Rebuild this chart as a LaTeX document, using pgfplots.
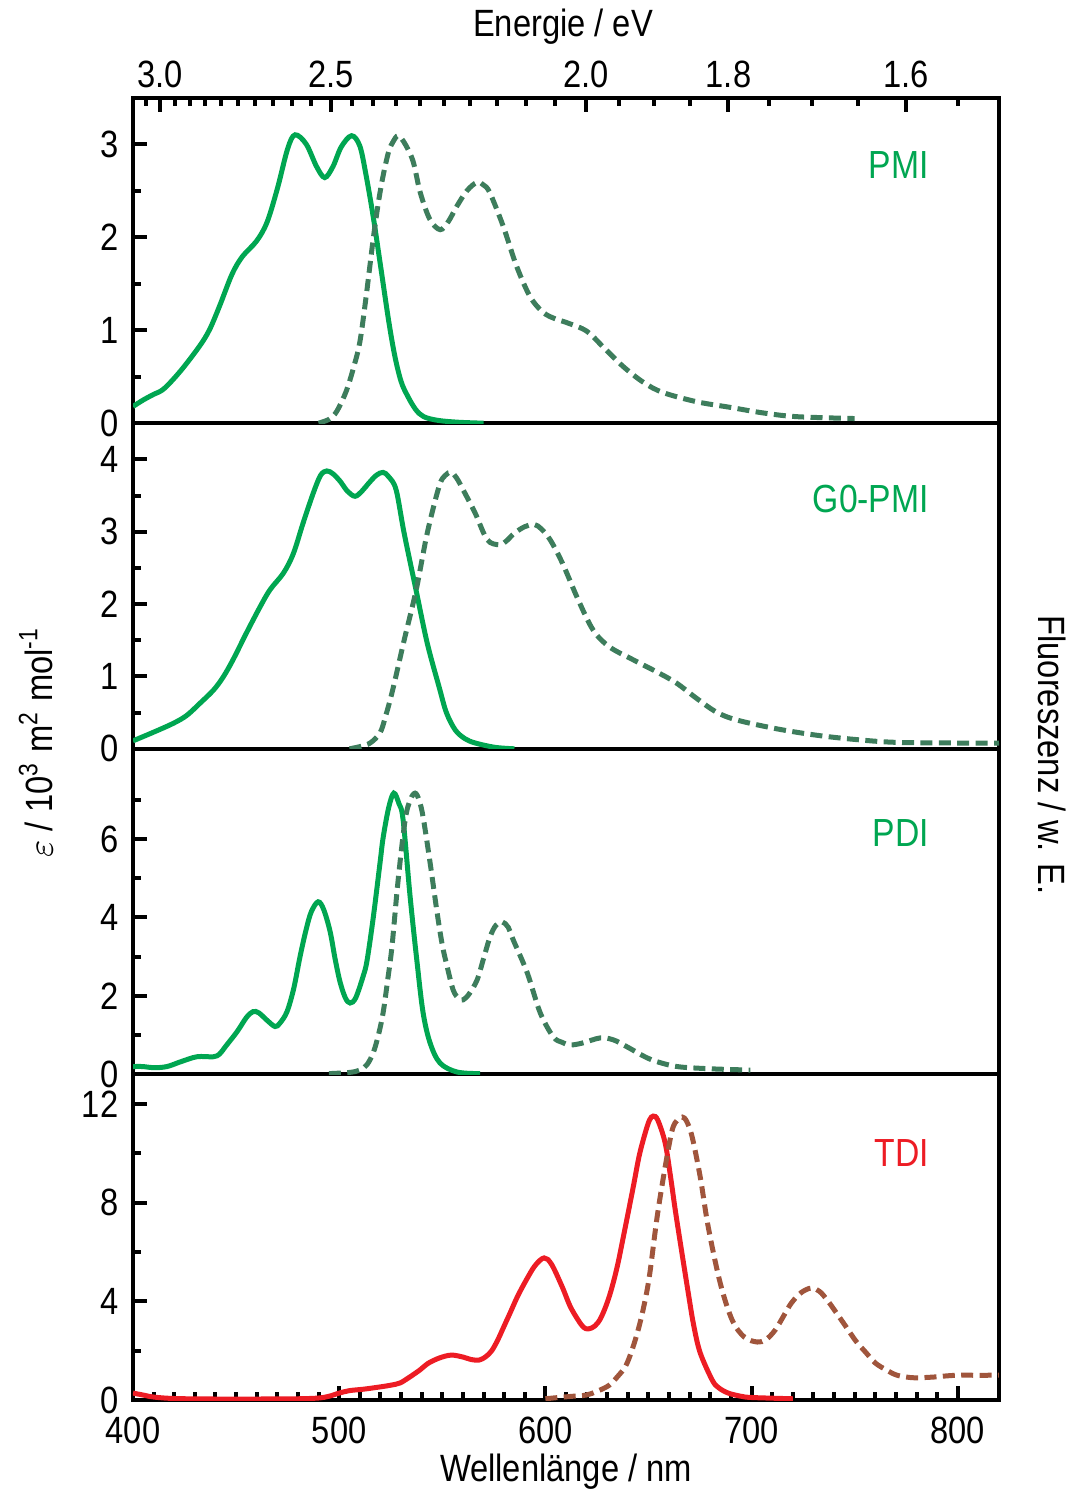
\documentclass[border=0pt]{standalone}
\usepackage{pgfplots}
\pgfplotsset{compat=1.18}
\usepackage{fontspec}
\setmainfont{Liberation Sans}[FakeStretch=0.86]
\definecolor{absgreen}{RGB}{0,166,81}
\definecolor{flgreen}{RGB}{61,125,92}
\definecolor{absred}{RGB}{237,28,36}
\definecolor{flbrown}{RGB}{160,85,60}
\tikzset{lbl/.style={anchor=east, inner sep=0pt, font=\fontsize{9.8}{11.4}\selectfont}}
\pgfplotsset{
  panel/.style={
    scale only axis, width=216.5pt, height=81.4pt,
    xmin=400, xmax=820,
    axis line style={line width=1pt, black},
    tick style={line width=1pt, black},
    major tick length=3.6pt, minor tick length=2.1pt,
    tick align=inside,
    ytick pos=left,
    xtick=\empty, minor x tick num=0,
    minor y tick num=1,
    /pgf/number format/assume math mode=true,
    font=\fontsize{9.5}{11.4}\selectfont,
    ticklabel style={font=\fontsize{9.5}{11.4}\selectfont},
    yticklabel style={xshift=-0.3pt, inner ysep=0pt},
    xticklabel style={inner ysep=0pt},
  },
  absline/.style={line width=1.25pt, smooth, tension=0.55},
  flline/.style={line width=1.25pt, smooth, tension=0.55, dash pattern=on 3pt off 1.6pt},
}
\begin{document}
\fontsize{9.5}{11.4}\selectfont
\begin{tikzpicture}
\useasboundingbox (-33.25pt,-22.5pt) rectangle (235.5pt,350pt);

% ---------------- TDI (bottom) ----------------
\begin{axis}[panel, at={(0pt,0pt)}, anchor=south west,
  ymin=0, ymax=13.2, ytick={0,4,8,12}, minor ytick={2,6,10},
  xtick={400,500,600,700,800}, minor x tick num=9,
  xtick pos=left, xticklabel pos=left,
  xticklabel style={yshift=-4pt}]
\addplot[absline, absred] coordinates {
(400,0.28)(405,0.2)(410,0.12)(420,0.06)(440,0.04)(460,0.04)(480,0.05)(490,0.08)
(495,0.15)(500,0.28)(505,0.38)(512,0.44)(519.8,0.53)(525,0.6)(529.5,0.69)(534,0.92)
(539.2,1.22)(543,1.48)(548.5,1.7)(554.3,1.82)(560.1,1.74)(564,1.64)(567.9,1.62)(571,1.75)
(574,2.0)(577,2.45)(580,3.0)(583,3.55)(586.5,4.2)(590.7,4.86)(595,5.45)(599.4,5.76)(603,5.5)
(608.2,4.58)(612,3.8)(615.9,3.24)(618.5,2.95)(620.8,2.88)(624,3.0)(627.1,3.36)(631,4.2)
(634.8,5.39)(638.5,6.9)(642.6,8.63)(645.5,9.9)(648.4,10.82)(650.5,11.35)(652.3,11.51)
(654.5,11.35)(658.1,10.42)(660.8,9.0)(663.5,7.42)(669.3,4.34)(672,3.0)(675.1,1.91)
(680.9,0.81)(684,0.5)(688.7,0.28)(695,0.15)(700.3,0.1)(720,0.05)};
\addplot[flline, flbrown] coordinates {
(600,0.05)(606.2,0.1)(613,0.15)(619.8,0.2)(625,0.35)(631,0.6)(635,0.95)(638.7,1.34)
(641.5,1.9)(644.6,2.72)(647.5,3.7)(650.4,4.99)(654.2,7.42)(658.1,9.45)(661.5,10.94)
(664,11.35)(666.4,11.47)(668.5,11.3)(671.2,10.66)(675.1,9.04)(679,7.01)(684.8,4.74)
(690.6,3.24)(696.5,2.55)(702.8,2.35)(707,2.45)(711.5,2.84)(715.5,3.4)(719.3,3.93)
(724,4.35)(729,4.54)(733,4.4)(736.7,4.05)(741,3.55)(745.9,2.96)(750.5,2.4)(755.6,1.91)
(760,1.5)(765.3,1.22)(770,1.02)(775,0.93)(780,0.9)(788.2,0.93)(795,0.98)(801.7,1.01)
(810,1.0)(820,1.01)};
\node[lbl, text=absred] at (rel axis cs:0.92,0.76) {TDI};
\end{axis}

% ---------------- PDI ----------------
\begin{axis}[panel, at={(0pt,81.4pt)}, anchor=south west,
  ymin=0, ymax=8.3, ytick={0,2,4,6}, minor ytick={1,3,5,7}]
\addplot[absline, absgreen] coordinates {
(400,0.2)(405,0.2)(410,0.17)(416.5,0.2)(423,0.32)(431,0.45)(439,0.45)(442,0.52)
(445,0.72)(450.5,1.09)(455,1.45)(458.2,1.6)(461,1.57)(465,1.38)(468.9,1.22)(471.3,1.31)
(474.7,1.6)(478,2.2)(481,3.0)(484,3.7)(486.5,4.15)(489.8,4.4)(492.5,4.2)(495.6,3.64)
(498,2.95)(500.4,2.36)(503,1.95)(505.3,1.82)(508,1.95)(511.6,2.5)(513.5,2.9)(516.5,3.99)
(519.8,5.39)(521.3,6.03)(524,6.8)(526.5,7.17)(529,6.9)(531,6.49)(534.4,4.53)(537.8,2.84)
(540.7,1.57)(544.1,0.8)(548.9,0.29)(557.2,0.06)(568.4,0.02)};
\addplot[flline, flgreen] coordinates {
(495,0.02)(505,0.05)(510,0.11)(513.5,0.25)(516.5,0.55)(519,1.0)(521.3,1.57)(523.5,2.4)
(525.6,3.26)(528.6,4.96)(532,6.49)(534.5,7.0)(536.8,7.17)(538.7,7.0)(540.7,6.56)
(544.1,5.39)(547.5,4.12)(550,3.3)(552.4,2.74)(555.3,2.15)(558,1.93)(560.1,1.9)(563,2.05)
(566.9,2.41)(570,2.95)(573.2,3.51)(576,3.8)(579,3.89)(582,3.75)(584.4,3.43)(591.2,2.59)
(597.5,1.57)(603.8,0.96)(608,0.82)(612.1,0.75)(618,0.8)(626.6,0.93)(633,0.88)(639.7,0.7)
(649.4,0.42)(657,0.28)(665.4,0.19)(681.4,0.14)(699.4,0.11)};
\node[lbl, text=absgreen] at (rel axis cs:0.92,0.742) {PDI};
\end{axis}

% ---------------- G0-PMI ----------------
\begin{axis}[panel, at={(0pt,162.8pt)}, anchor=south west,
  ymin=0, ymax=4.5, ytick={0,1,2,3,4}]
\addplot[absline, absgreen] coordinates {
(400,0.11)(410,0.23)(419.4,0.35)(426,0.46)(432.5,0.63)(439,0.81)(443.7,0.99)(448.5,1.23)
(455,1.6)(461.6,1.96)(466.5,2.2)(473,2.43)(477.8,2.7)(482.5,3.12)(487.5,3.54)(491,3.78)
(494,3.84)(497,3.8)(500.4,3.7)(504,3.56)(507.7,3.49)(511,3.56)(514,3.66)(518,3.78)
(521.3,3.82)(524,3.76)(527.6,3.58)(531.5,2.98)(537.3,2.19)(542.7,1.46)(548.5,0.85)
(552,0.5)(556.3,0.26)(561,0.14)(566,0.08)(575.6,0.02)(585,0.0)};
\addplot[flline, flgreen] coordinates {
(505,0.0)(510,0.03)(515,0.08)(519.8,0.22)(522.5,0.45)(526,0.82)(531.5,1.5)(537.3,2.19)
(542.7,2.98)(548.5,3.63)(551.5,3.78)(554.3,3.82)(557,3.74)(560.1,3.58)(565.9,3.26)
(571.8,2.89)(577.6,2.82)(581,2.87)(585,2.98)(590,3.07)(594.6,3.1)(598,3.04)(602.3,2.89)
(608.2,2.57)(615.9,2.06)(623.2,1.64)(631,1.41)(642.6,1.23)(654.2,1.06)(663.5,0.91)
(673.2,0.7)(682.8,0.51)(692.6,0.4)(711.5,0.28)(730.9,0.19)(749.8,0.13)(769.2,0.09)
(797.8,0.08)(820,0.08)};
\node[lbl, text=absgreen] at (rel axis cs:0.92,0.766) {G0-PMI};
\end{axis}

% ---------------- PMI (top) ----------------
\begin{axis}[panel, at={(0pt,244.2pt)}, anchor=south west,
  ymin=0, ymax=3.5, ytick={0,1,2,3},
  xtick={413.28,495.94,619.92,688.80,774.90},
  xticklabels={3.0,2.5,2.0,1.8,1.6},
  minor xtick={406.5,420.3,427.5,435.0,442.8,450.9,459.2,467.9,476.9,486.2,
    506.1,516.6,527.6,539.1,551.0,563.6,576.7,590.4,604.8,635.8,652.5,670.2,
    708.5,729.3,751.4,799.9},
  xtick pos=right, xticklabel pos=right,
  xticklabel style={yshift=2.2pt}]
\addplot[absline, absgreen] coordinates {
(400,0.18)(405,0.25)(410,0.31)(415,0.37)(423,0.56)(432,0.82)(437,1.0)(442,1.26)
(448,1.6)(453,1.79)(460,1.96)(465,2.16)(470,2.52)(475,2.95)(478.6,3.1)(484,3.0)
(489,2.76)(493,2.64)(497,2.76)(501,2.97)(506,3.09)(510,2.98)(513,2.67)(516.5,2.22)
(520,1.7)(524,1.1)(527,0.72)(530,0.45)(533,0.3)(537,0.15)(541,0.07)(548,0.03)
(558,0.01)(570,0.0)};
\addplot[flline, flgreen] coordinates {
(490,0.0)(495,0.04)(498,0.1)(501,0.22)(504,0.38)(507,0.6)(510,0.87)(513,1.35)
(516.5,1.98)(519,2.37)(521.3,2.66)(524,2.92)(526,3.02)(528.6,3.09)(532,3.0)(535.9,2.81)
(539.3,2.48)(544,2.19)(549,2.08)(553,2.17)(557,2.33)(562,2.5)(566.9,2.59)(570,2.56)
(573,2.48)(579.5,2.12)(586,1.69)(592.6,1.36)(599,1.19)(605,1.12)(610.5,1.08)(620,0.99)
(628,0.82)(637.7,0.61)(647.5,0.44)(657,0.33)(673.5,0.23)(689.7,0.17)(705.7,0.11)
(722,0.07)(750,0.05)};
\node[lbl, text=absgreen] at (rel axis cs:0.92,0.794) {PMI};
\end{axis}

% ---------------- axis titles ----------------
\node[anchor=base] at (108.25pt,-20.25pt) {Wellenlänge / nm};
\node[anchor=base] at (107.5pt,340.75pt) {Energie / eV};
\node[rotate=90] at (-24.25pt,164.5pt) {$\varepsilon$ / 10\textsuperscript{3} m\textsuperscript{2} mol\textsuperscript{-1}};
\node[rotate=-90] at (229.75pt,161.25pt) {Fluoreszenz / w. E.};
\end{tikzpicture}
\end{document}
